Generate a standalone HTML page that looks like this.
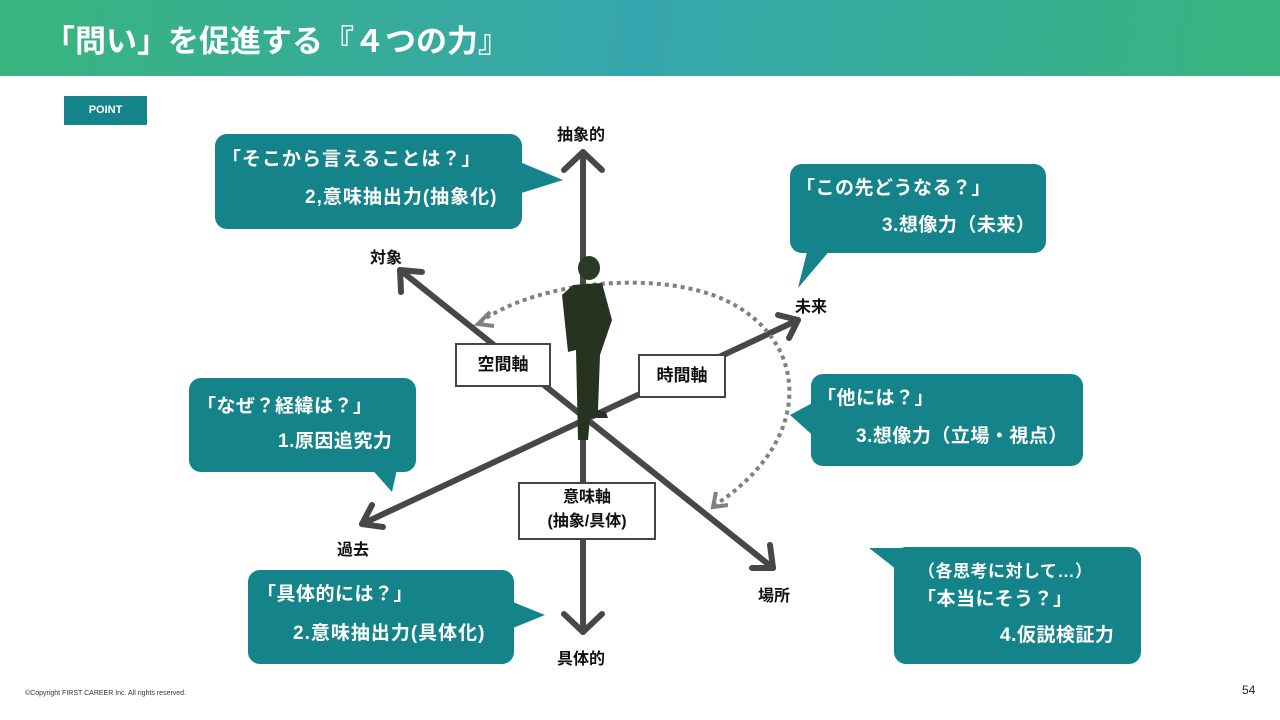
<!DOCTYPE html>
<html><head><meta charset="utf-8"><style>
body{margin:0;width:1280px;height:720px;overflow:hidden;background:#fff;font-family:"Liberation Sans","Noto Sans CJK JP",sans-serif;position:relative}
.hd{position:absolute;left:0;top:0;width:1280px;height:76px;background:linear-gradient(100deg,#38b57d 0%,#36a6ae 50%,#38b57d 100%)}
.hd div{position:absolute;left:44px;top:16px;color:#fff;font-size:31px;font-weight:bold;letter-spacing:0}
.pt{position:absolute;left:64px;top:96px;width:83px;height:29px;background:#14838a;color:#fff;font-size:11px;font-weight:bold;text-align:center;line-height:29px}
.t{position:absolute;font-size:16px;font-weight:bold;color:#111}
.b{position:absolute;color:#fff;font-weight:bold;font-size:19px;line-height:36px;letter-spacing:0.5px}
.bx{position:absolute;background:#fff;border:2px solid #444;font-size:17px;font-weight:bold;text-align:center;color:#111}
</style></head><body>
<div class="hd"><div>「問い」を促進する『４つの力』</div></div>
<div class="pt">POINT</div>
<svg width="1280" height="720" style="position:absolute;left:0;top:0">
<g fill="#14838a">
<rect x="215" y="134" width="307" height="95" rx="12"/><polygon points="515,160 563,180 515,195"/>
<rect x="790" y="164" width="256" height="89" rx="12"/><polygon points="808,248 798,288 832,248"/>
<rect x="811" y="374" width="272" height="92" rx="12"/><polygon points="818,400 790,415 818,440"/>
<rect x="189" y="378" width="227" height="94" rx="12"/><polygon points="368,465 392,492 398,465"/>
<rect x="248" y="570" width="266" height="94" rx="12"/><polygon points="508,600 545,615 508,630"/>
<rect x="894" y="547" width="247" height="117" rx="12"/><polygon points="869,548 910,548 910,580"/>
</g>
<g stroke="#474747" stroke-width="6" fill="none" stroke-linecap="round" stroke-linejoin="round">
<line x1="583" y1="152" x2="583" y2="632"/>
<polyline points="564,170 583,152 602,170"/>
<polyline points="564,614 583,632 602,614"/>
<line x1="400" y1="270" x2="773" y2="568"/>
<polyline points="401,292 400,270 422,272"/>
<polyline points="752,568 773,568 770,545"/>
<line x1="362" y1="524" x2="798" y2="320"/>
<polyline points="372,505 362,524 383,527"/>
<polyline points="778,315 798,320 789,338"/>
</g>
<path d="M480,322 C540,280 660,270 725,300 C810,340 815,440 715,505" stroke="#808080" stroke-width="4" stroke-dasharray="4,4" fill="none"/>
<polyline points="490,312 478,324 494,326" stroke="#808080" stroke-width="4" fill="none"/>
<polyline points="716,492 713,507 728,505" stroke="#808080" stroke-width="4" fill="none"/>
<g fill="#263321">
<ellipse cx="589" cy="268" rx="11" ry="12" fill="#2a3a24"/>
<path d="M573,285 L602,283 L612,320 L600,355 L598,410 L606,412 L608,418 L590,418 L588,440 L578,440 L576,350 L568,352 L562,295 Z"/>
</g>
</svg>
<div class="t" style="left:557px;top:121px">抽象的</div>
<div class="t" style="left:557px;top:645px">具体的</div>
<div class="t" style="left:370px;top:244px">対象</div>
<div class="t" style="left:795px;top:293px">未来</div>
<div class="t" style="left:337px;top:536px">過去</div>
<div class="t" style="left:758px;top:582px">場所</div>
<div class="bx" style="left:455px;top:343px;width:92px;height:40px;line-height:40px">空間軸</div>
<div class="bx" style="left:638px;top:354px;width:84px;height:40px;line-height:40px">時間軸</div>
<div class="bx" style="left:518px;top:482px;width:134px;height:52px;line-height:24px;font-size:16px;padding-top:2px">意味軸<br>(抽象/具体)</div>
<div class="b" style="left:222px;top:142px;letter-spacing:1px">「そこから言えることは？」</div>
<div class="b" style="left:305px;top:180px;letter-spacing:1px">2,意味抽出力(抽象化)</div>
<div class="b" style="left:796px;top:171px">「この先どうなる？」</div>
<div class="b" style="left:882px;top:208px">3.想像力（未来）</div>
<div class="b" style="left:817px;top:381px">「他には？」</div>
<div class="b" style="left:856px;top:419px">3.想像力（立場・視点）</div>
<div class="b" style="left:197px;top:389px">「なぜ？経緯は？」</div>
<div class="b" style="left:278px;top:424px">1.原因追究力</div>
<div class="b" style="left:257px;top:577px">「具体的には？」</div>
<div class="b" style="left:293px;top:616px;letter-spacing:1px">2.意味抽出力(具体化)</div>
<div class="b" style="left:918px;top:554px;font-size:17px">（各思考に対して…）</div>
<div class="b" style="left:917px;top:582px">「本当にそう？」</div>
<div class="b" style="left:1000px;top:618px">4.仮説検証力</div>
<div style="position:absolute;left:25px;top:690px;font-size:7px;color:#333">©Copyright FIRST CAREER Inc. All rights reserved.</div>
<div style="position:absolute;left:1242px;top:683px;font-size:12px;color:#222">54</div>
</body></html>
